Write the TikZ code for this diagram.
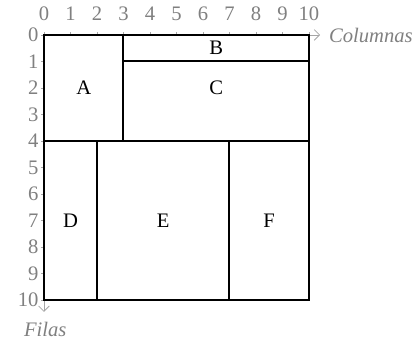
\documentclass[tikz,border=0pt]{standalone}
\usepackage{fontspec}
\setmainfont{Liberation Serif}
\usetikzlibrary{arrows.meta}
\begin{document}
\begin{tikzpicture}[x=0.7cm,y=-0.7cm,
  axis/.style={draw=gray!70, line width=0.6pt},
  tick/.style={draw=gray!70, line width=0.5pt},
  num/.style={text=gray, font=\fontsize{15.5}{15.5}\selectfont, inner sep=0pt},
  axlabel/.style={text=gray, font=\fontsize{15.5}{15.5}\selectfont\itshape, inner sep=0pt},
  block/.style={draw=black, line width=1.5pt},
  lbl/.style={font=\fontsize{15.5}{15.5}\selectfont, inner sep=0pt}]
\useasboundingbox (-1.66,-1.32) rectangle (14.19,11.55);
% axes with ticks and numbers
\coordinate (o) at (0,0);
\coordinate (cx) at (10.42,0);
\coordinate (ry) at (0,10.45);
\draw[axis, -{Straight Barb[length=4pt,width=8pt]}] (o) -- (cx);
\draw[axis, -{Straight Barb[length=4pt,width=8pt]}] (o) -- (ry);
\foreach \i in {0,...,10} {
  \draw[tick] (\i,0) -- (\i,-0.12);
  \draw[tick] (0,\i) -- (-0.12,\i);
  \node[num] (c\i) at (\i,-0.8) {\i};
  \node[num, anchor=east] (r\i) at (-0.2,\i) {\i};
}
\node[axlabel, anchor=west] (colname) at (10.75,0) {Columnas};
\node[axlabel] (rowname) at (0.05,11.1) {Filas};
% blocks
\draw[block] (0,0) rectangle (3,4);
\draw[block] (3,0) rectangle (10,1);
\draw[block] (3,1) rectangle (10,4);
\draw[block] (0,4) rectangle (2,10);
\draw[block] (2,4) rectangle (7,10);
\draw[block] (7,4) rectangle (10,10);
\node[lbl] (A) at (1.5,2) {A};
\node[lbl] (B) at (6.5,0.5) {B};
\node[lbl] (C) at (6.5,2) {C};
\node[lbl] (D) at (1,7) {D};
\node[lbl] (E) at (4.5,7) {E};
\node[lbl] (F) at (8.5,7) {F};
\end{tikzpicture}
\end{document}
